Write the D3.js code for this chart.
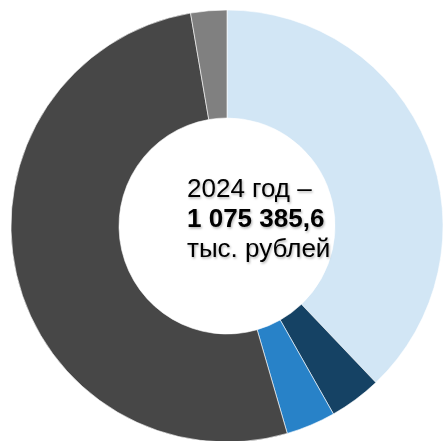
<!DOCTYPE html>
<html>
<head>
<meta charset="utf-8">
<script src="https://cdn.jsdelivr.net/npm/d3@7"></script>
<style>
  html, body { margin: 0; padding: 0; background: #fff; }
  svg { display: block; }
</style>
</head>
<body>
<div id="chart"></div>
<script>
// shares of the 2024 total, clockwise from 12 o'clock (%)
const categories = ["Категория 1", "Категория 2", "Категория 3", "Категория 4", "Категория 5"];
const shares = [37.9, 3.9, 3.7, 51.8, 2.7];
const colors = ["#d2e6f5", "#154264", "#2882c8", "#474747", "#808080"];
const centerLines = ["2024 год –", "1 075 385,6", "тыс. рублей"];

const width = 444, height = 441;
const cx = 227, cy = 226;
const outerR = 216, innerR = 108;

let svg = d3.select("#chart").append("svg")
  .attr("width", width)
  .attr("height", height);

// soft shadow under the caption, like the original
let defs = svg.append("defs");
defs.append("filter")
  .attr("id", "shadow")
  .attr("x", "-10%").attr("y", "-30%")
  .attr("width", "120%").attr("height", "160%")
  .append("feDropShadow")
  .attr("dx", 1).attr("dy", 1.5)
  .attr("stdDeviation", 1.2)
  .attr("flood-color", "#000")
  .attr("flood-opacity", 0.3);

let pie = d3.pie()
  .sort(null)
  .value(d => d);

let arc = d3.arc()
  .innerRadius(innerR)
  .outerRadius(outerR);

let g = svg.append("g")
  .attr("transform", `translate(${cx},${cy})`);

g.selectAll("path")
  .data(pie(shares))
  .join("path")
  .attr("d", arc)
  .attr("fill", (d, i) => colors[i])
  .attr("stroke", "#ffffff")
  .attr("stroke-width", 0.6)
  .append("title")
  .text((d, i) => `${categories[i]}: ${d.data}%`);

// caption in the hole
let caption = svg.append("text")
  .attr("font-family", "Liberation Sans, Arial, sans-serif")
  .attr("font-size", 26)
  .attr("fill", "#000")
  .attr("filter", "url(#shadow)");

caption.selectAll("tspan")
  .data(centerLines)
  .join("tspan")
  .attr("x", 187)
  .attr("y", (d, i) => 197 + i * 30)
  .attr("font-weight", (d, i) => i === 1 ? "bold" : "normal")
  .text(d => d);
</script>
</body>
</html>
